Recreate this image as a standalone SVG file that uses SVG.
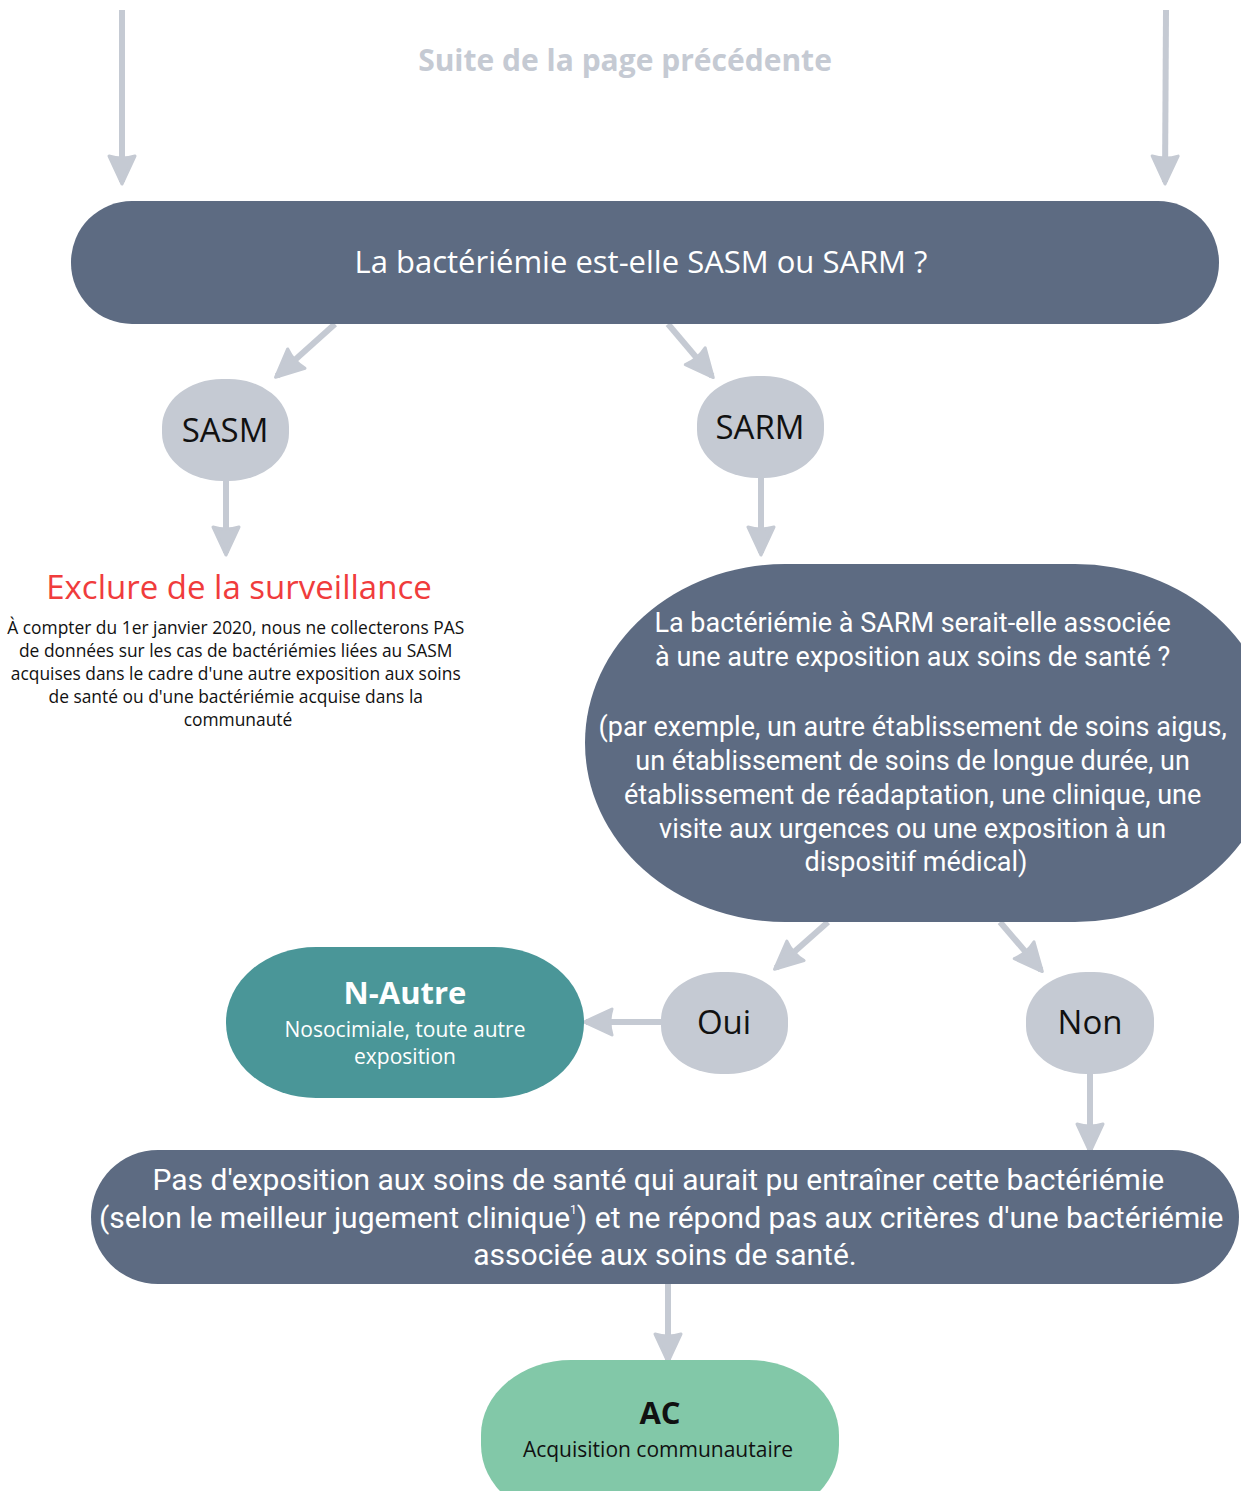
<svg xmlns="http://www.w3.org/2000/svg" width="1241" height="1491" viewBox="0 0 1241 1491">
<defs>
<style>
.dark{fill:#5d6b82}
.grey{fill:#c5cad3}
.wt{fill:#ffffff;font-family:Roboto,"Open Sans",sans-serif;text-anchor:middle}
.wo{fill:#ffffff;font-family:"Open Sans",Roboto,sans-serif;text-anchor:middle}
.bk{fill:#111111;font-family:"Open Sans",Roboto,sans-serif;text-anchor:middle}
.conn{stroke:#c5cad3;stroke-width:6;fill:none;marker-end:url(#ah)}
</style>
<marker id="ah" markerUnits="userSpaceOnUse" markerWidth="32" markerHeight="32" viewBox="0 0 32 32" refX="28" refY="16" orient="auto">
<path d="M2,3 L30,16 L2,29 Q6,16 2,3 Z" fill="#c5cad3" stroke="#c5cad3" stroke-width="3" stroke-linejoin="round"/>
</marker>
</defs>
<rect width="1241" height="1491" fill="#ffffff"/>
<text x="625" y="71" font-family="'Open Sans',sans-serif" font-weight="bold" font-size="30" fill="#c5cad3" text-anchor="middle">Suite de la page précédente</text>
<g id="connectors">
<line class="conn" x1="122" y1="10" x2="122" y2="182"/>
<line class="conn" x1="1166" y1="10" x2="1165" y2="182"/>
<line class="conn" x1="335" y1="324" x2="277" y2="376"/>
<line class="conn" x1="668" y1="324" x2="712" y2="376"/>
<line class="conn" x1="226" y1="481" x2="226" y2="553"/>
<line class="conn" x1="761" y1="478" x2="761" y2="553"/>
<line class="conn" x1="828" y1="922" x2="776" y2="968"/>
<line class="conn" x1="1000" y1="922" x2="1041" y2="970"/>
<line class="conn" x1="661" y1="1022" x2="586" y2="1022"/>
<line class="conn" x1="1090" y1="1074" x2="1090" y2="1150"/>
<line class="conn" x1="668" y1="1284" x2="668" y2="1360"/>
</g>
<g id="q1">
<rect class="dark" x="71" y="201" width="1148" height="123" rx="61" ry="61"/>
<text class="wo" x="641" y="273" font-size="31">La bactériémie est-elle SASM ou SARM ?</text>
</g>
<g id="sasm">
<rect class="grey" x="162" y="379" width="127" height="102" rx="60" ry="48"/>
<text class="bk" x="225" y="442" font-size="33">SASM</text>
</g>
<g id="sarm">
<rect class="grey" x="697" y="376" width="127" height="102" rx="60" ry="48"/>
<text class="bk" x="760" y="439" font-size="33">SARM</text>
</g>
<g id="exclure">
<text x="239" y="599" font-family="'Open Sans',Roboto,sans-serif" font-size="33" fill="#f03c3c" text-anchor="middle">Exclure de la surveillance</text>
<text class="bk" font-size="17.4" fill="#222">
<tspan x="238" y="634">À compter du 1er janvier 2020, nous ne collecterons PAS</tspan>
<tspan x="238" y="657">de données sur les cas de bactériémies liées au SASM</tspan>
<tspan x="238" y="680">acquises dans le cadre d'une autre exposition aux soins</tspan>
<tspan x="238" y="703">de santé ou d'une bactériémie acquise dans la</tspan>
<tspan x="238" y="726">communauté</tspan>
</text>
</g>
<g id="q2">
<rect class="dark" x="585" y="564" width="690" height="358" rx="200" ry="179"/>
<text class="wt" font-size="27">
<tspan x="916" y="632">La bactériémie à SARM serait-elle associée</tspan>
<tspan x="916" y="666">à une autre exposition aux soins de santé ?</tspan>
<tspan x="916" y="736">(par exemple, un autre établissement de soins aigus,</tspan>
<tspan x="916" y="770">un établissement de soins de longue durée, un</tspan>
<tspan x="916" y="804">établissement de réadaptation, une clinique, une</tspan>
<tspan x="916" y="838">visite aux urgences ou une exposition à un</tspan>
<tspan x="916" y="871">dispositif médical)</tspan>
</text>
</g>
<g id="nautre">
<rect x="226" y="947" width="358" height="151" rx="90" ry="75" fill="#4a9698"/>
<text class="wo" x="405" y="1004" font-size="31" font-weight="bold">N-Autre</text>
<text class="wo" x="405" y="1037" font-size="21">Nosocimiale, toute autre</text>
<text class="wo" x="405" y="1064" font-size="21">exposition</text>
</g>
<g id="oui">
<rect class="grey" x="661" y="972" width="127" height="102" rx="60" ry="48"/>
<text class="bk" x="724" y="1034" font-size="33">Oui</text>
</g>
<g id="non">
<rect class="grey" x="1026" y="972" width="128" height="102" rx="60" ry="48"/>
<text class="bk" x="1090" y="1034" font-size="33">Non</text>
</g>
<g id="pasexpo">
<rect class="dark" x="91" y="1150" width="1148" height="134" rx="67" ry="67"/>
<text class="wt" font-size="30">
<tspan x="662" y="1190">Pas d'exposition aux soins de santé qui aurait pu entraîner cette bactériémie</tspan>
<tspan x="665" y="1228">(selon le meilleur jugement clinique<tspan font-size="12" dy="-14">1</tspan><tspan dy="14">) et ne répond pas aux critères d'une bactériémie</tspan></tspan>
<tspan x="665" y="1265">associée aux soins de santé.</tspan>
</text>
</g>
<g id="ac">
<rect x="481" y="1360" width="358" height="160" rx="90" ry="75" fill="#82c8a8"/>
<text class="bk" x="660" y="1424" font-size="31" font-weight="bold">AC</text>
<text class="bk" x="658" y="1457" font-size="21">Acquisition communautaire</text>
</g>
</svg>
